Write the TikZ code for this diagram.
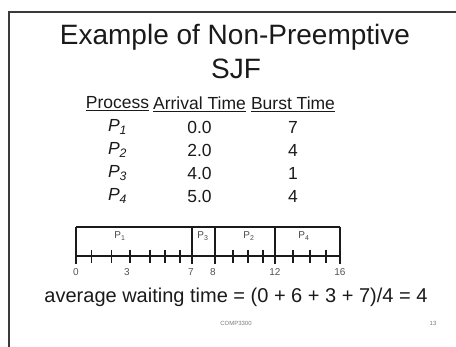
\documentclass[tikz,border=0pt]{standalone}
\usepackage{fontspec}
\setmainfont{Liberation Sans}
\usetikzlibrary{positioning}
\definecolor{cink}{HTML}{1A1A1A}
\definecolor{cframe}{HTML}{3A3A3A}
\definecolor{cfoot}{HTML}{7A7A7A}
\newcommand{\proc}[1]{\textit{P}\textsubscript{\textit{#1}}}
\tikzset{
  every picture/.style={line width=1.1pt},
  slideframe/.style={draw=cframe, line width=1.4pt},
  title/.style={font=\fontsize{28}{30}\selectfont, text=cink, inner sep=0pt},
  cell/.style={font=\fontsize{17.5}{19}\selectfont, text=cink, inner sep=0pt},
  gantt/.style={draw=cink, line width=1.1pt},
  ganttlabel/.style={font=\fontsize{10}{11}\selectfont, text=cink!80, inner sep=0pt},
  timelabel/.style={font=\fontsize{10}{11}\selectfont, text=cink!75, inner sep=0pt},
  avg/.style={font=\fontsize{20}{22}\selectfont, text=cink, inner sep=0pt},
  foot/.style={font=\fontsize{6}{7}\selectfont, text=cfoot, inner sep=0pt},
}

\begin{document}
\begin{tikzpicture}[x=1pt, y=-1pt]
  \useasboundingbox (0,0) rectangle (456,347);
  % slide border
  \draw[slideframe] (9,347) -- (9,12) -- (456,12);

  \node[title] (title) at (235,37) {Example of Non-Preemptive};
  \node[title] (titlesjf) at (236,69) {SJF};

  % process table
  \node[cell] (hproc) at (117.5,104) {\underline{Process}};
  \node[cell] (harr) at (199.5,104) {\underline{Arrival Time}};
  \node[cell] (hburst) at (293,104) {\underline{Burst Time}};
  \foreach \a/\b [count=\i] in {0.0/7, 2.0/4, 4.0/1, 5.0/4} {
    \node[cell] (p\i) at (117.5,{104+23*\i}) {\proc{\i}};
    \node[cell] (arr\i) at (199.5,{104+23*\i}) {\a};
    \node[cell] (burst\i) at (293,{104+23*\i}) {\b};
  }

  % gantt chart, hand spaced time marks on the axis
  \foreach \t/\x in {0/76, 1/91.7, 2/111.7, 3/130, 4/150, 5/165, 6/180, 7/192, 8/215,
                     9/233, 10/248, 11/263, 12/275, 13/293, 14/310, 15/326, 16/340}
    \coordinate (m\t) at (\x,256);
  \draw[gantt] ([yshift=29pt]m0) -- ([yshift=29pt]m16);
  \draw[gantt] (m0) -- (m16);
  \foreach \t in {0,7,8,12,16}
    \draw[gantt] ([yshift=29pt]m\t) -- ([yshift=-8pt]m\t);
  \foreach \t in {1,...,6,9,10,11,13,14,15}
    \draw[gantt] ([yshift=6pt]m\t) -- ([yshift=-7pt]m\t);
  \foreach \t/\dx in {0/0, 3/-3, 7/-1, 8/-2, 12/0, 16/0}
    \node[timelabel] (t\t) at ([xshift=\dx pt, yshift=-16pt]m\t) {\t};
  \foreach \n/\x in {1/120, 3/203, 2/249, 4/304}
    \node[ganttlabel] (g\n) at (\x,236) {P\textsubscript{\n}};

  \node[avg] (avg) at (236,297) {average waiting time = (0 + 6 + 3 + 7)/4 = 4};

  % footer
  \node[foot] (course) at (236,323) {COMP3300};
  \node[foot] (page) at (433,323) {13};
\end{tikzpicture}
\end{document}
